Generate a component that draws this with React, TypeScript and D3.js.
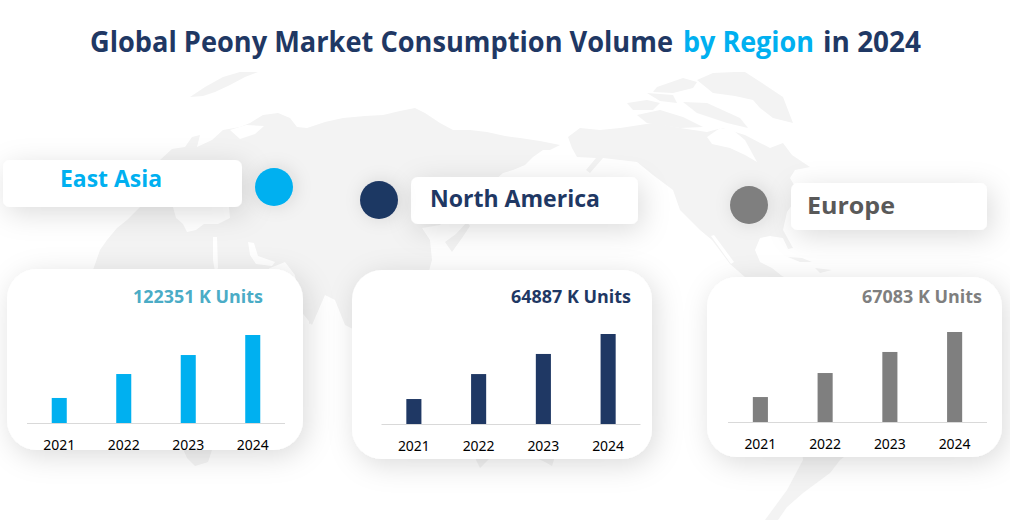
import React from "react";
import * as d3 from "d3";

const years = ["2021", "2022", "2023", "2024"];
const eastAsiaValues = [34800, 68100, 94500, 122351];
const northAmericaValues = [18000, 36000, 50500, 64887];
const europeValues = [18600, 36500, 52200, 67083];

const FONT = "'Open Sans', 'Noto Sans', sans-serif";
const TICK_FONT = "'Noto Sans', 'Open Sans', sans-serif";
const NAVY = "#1f3864";
const CYAN = "#00b0f0";
const GREY = "#7f7f7f";

type Panel = {
  name: string; values: number[]; color: string; nameColor: string; valueColor: string;
  card: [number, number, number, number];
  label: [number, number, number, number];
  dot: [number, number];
  nameX: number; nameY: number; nameW: number;
  valueX: number; valueY: number; valueW: number;
  axis: [number, number]; base: number; top: number; tickY: number;
};

const panels: Panel[] = [
  { name: "East Asia", values: eastAsiaValues, color: CYAN, nameColor: CYAN, valueColor: "#4bacc6",
    card: [7, 269, 296, 181], label: [3, 160, 239, 47], dot: [274, 187],
    nameX: 60, nameY: 187, nameW: 102, valueX: 133, valueY: 303, valueW: 130,
    axis: [27, 285], base: 423, top: 335, tickY: 450 },
  { name: "North America", values: northAmericaValues, color: NAVY, nameColor: NAVY, valueColor: NAVY,
    card: [352, 270, 300, 189], label: [411, 177, 227, 47], dot: [379, 200],
    nameX: 430, nameY: 207, nameW: 170, valueX: 511, valueY: 303, valueW: 120,
    axis: [381.5, 640.5], base: 424, top: 334, tickY: 451 },
  { name: "Europe", values: europeValues, color: GREY, nameColor: "#595959", valueColor: GREY,
    card: [707, 277, 295, 180], label: [791, 183, 196, 47], dot: [749, 205],
    nameX: 807, nameY: 214, nameW: 88, valueX: 862, valueY: 303, valueW: 120,
    axis: [728, 987], base: 422, top: 332, tickY: 449 },
];

// Decorative world-map silhouette (background only, not data)
const landShapes: [number, number][][] = [
  [[190, 97], [205, 87], [223, 77], [240, 72], [258, 72], [245, 77], [230, 85], [215, 92], [203, 96]],
  [[93, 270], [100, 250], [107, 240], [117, 228], [127, 220], [140, 207], [140, 180], [160, 160], [172, 149], [185, 147],
   [192, 137], [200, 135], [197, 147], [212, 140], [223, 130], [240, 127], [250, 123], [263, 115], [278, 113], [290, 118],
   [297, 127], [307, 128], [325, 122], [343, 118], [365, 116], [383, 115], [400, 111], [415, 108], [425, 113], [440, 123],
   [453, 130], [470, 130], [487, 132], [505, 136], [520, 138], [540, 141], [560, 145], [550, 150], [543, 150], [533, 157],
   [525, 165], [513, 170], [503, 173], [495, 180], [470, 190], [440, 225], [422, 228], [430, 240], [432, 260], [425, 285],
   [405, 300], [385, 325], [365, 335], [345, 325], [335, 300], [325, 295], [312, 325], [300, 310], [295, 275], [285, 262],
   [270, 268], [250, 280], [240, 300], [255, 330], [250, 390], [232, 430], [212, 450], [208, 462], [195, 466], [187, 458],
   [170, 420], [160, 340], [120, 320], [93, 300]],
  [[452, 252], [462, 238], [470, 226], [467, 222], [456, 234], [445, 242]],
  [[309, 316], [312, 318], [312, 323], [309, 324]],
  [[470, 440], [560, 440], [552, 466], [545, 462], [530, 455], [490, 458], [480, 468], [476, 460]],
  [[568, 137], [580, 128], [600, 130], [620, 128], [640, 125], [653, 123], [680, 128], [707, 132], [722, 128], [745, 135],
   [770, 148], [783, 143], [792, 155], [810, 167], [795, 170], [790, 178], [797, 190], [792, 205], [787, 212], [783, 230],
   [793, 248], [788, 249], [783, 238], [770, 236], [760, 238], [755, 250], [760, 262], [772, 268], [782, 276], [800, 285],
   [760, 290], [730, 264], [712, 240], [700, 230], [680, 210], [673, 190], [653, 175], [637, 162], [620, 160], [603, 158],
   [590, 173], [586, 170], [596, 158], [577, 157], [572, 148]],
  [[697, 80], [713, 73], [735, 72], [745, 72], [765, 85], [783, 97], [788, 110], [793, 123], [773, 118], [760, 108], [753, 100], [735, 96], [713, 93]],
  [[657, 87], [683, 78], [697, 82], [693, 88], [673, 93], [653, 92]],
  [[627, 103], [647, 100], [660, 103], [653, 110], [633, 110]],
  [[647, 93], [673, 95], [677, 103], [660, 101]],
  [[683, 102], [707, 103], [740, 118], [748, 128], [727, 123], [697, 113]],
  [[637, 115], [660, 110], [683, 117], [703, 127], [680, 128], [647, 123]],
  [[788, 257], [802, 258], [812, 262], [800, 262]],
  [[815, 268], [832, 270], [820, 273]],
  [[800, 292], [860, 300], [880, 340], [880, 430], [840, 460], [830, 473], [803, 493], [787, 507], [778, 520], [765, 520], [787, 490], [803, 460], [790, 350]],
];

const waterShapes: [number, number][][] = [
  [[173, 207], [176, 218], [183, 224], [187, 232], [196, 230], [204, 224], [218, 224], [230, 218], [229, 207]],
  [[213, 237], [217, 237], [218, 268], [215, 272], [213, 260]],
  [[248, 242], [254, 243], [258, 256], [275, 262], [272, 266], [256, 264], [250, 255]],
  [[230, 130], [246, 125], [264, 126], [255, 134], [240, 139]],
  [[707, 137], [720, 128], [733, 130], [745, 140], [757, 162], [745, 155], [730, 148], [712, 144]],
  [[711, 236], [714, 235], [734, 262], [731, 264]],
];

const lineGen = d3.line<[number, number]>().curve(d3.curveLinearClosed);

function PanelView({ p }: { p: Panel }) {
  const x = d3.scaleBand<string>().domain(years).range(p.axis).paddingInner(0.767).paddingOuter(0.3835);
  const y = d3.scaleLinear().domain([0, d3.max(p.values) as number]).range([p.base, p.top]);
  return (
    <g>
      <rect x={p.card[0]} y={p.card[1]} width={p.card[2]} height={p.card[3]} rx={30} fill="#fff" filter="url(#cardShadow)" />
      <text x={p.valueX} y={p.valueY} fontFamily={FONT} fontWeight={700} fontSize={17.5} fill={p.valueColor}
        textLength={p.valueW} lengthAdjust="spacingAndGlyphs">
        {d3.format("d")(p.values[3])} K Units
      </text>
      {years.map((yr, i) => (
        <rect key={yr} x={x(yr)} y={y(p.values[i])} width={x.bandwidth()} height={p.base - y(p.values[i])} fill={p.color} />
      ))}
      <line x1={p.axis[0]} x2={p.axis[1]} y1={p.base + 0.5} y2={p.base + 0.5} stroke="#d9d9d9" strokeWidth={1} />
      {years.map((yr) => (
        <text key={yr} x={(x(yr) as number) + x.bandwidth() / 2} y={p.tickY} textAnchor="middle"
          fontFamily={TICK_FONT} fontSize={14} fill="#000" textLength={32} lengthAdjust="spacingAndGlyphs">{yr}</text>
      ))}
      <rect x={p.label[0]} y={p.label[1]} width={p.label[2]} height={p.label[3]} rx={7} fill="#fff" filter="url(#cardShadow)" />
      <circle cx={p.dot[0]} cy={p.dot[1]} r={19} fill={p.color} filter="url(#dotShadow)" />
      <text x={p.nameX} y={p.nameY} fontFamily={FONT} fontWeight={700} fontSize={23.5} fill={p.nameColor}
        textLength={p.nameW} lengthAdjust="spacingAndGlyphs">{p.name}</text>
    </g>
  );
}

export default function App() {
  return (
    <svg width={1010} height={520} viewBox="0 0 1010 520"
      style={{ position: "absolute", left: 0, top: 0, display: "block", background: "#fff" }}>
      <defs>
        <filter id="cardShadow" x="-30%" y="-80%" width="160%" height="260%">
          <feDropShadow dx={4} dy={6} stdDeviation={14} floodColor="#000" floodOpacity={0.14} />
        </filter>
        <filter id="dotShadow" x="-100%" y="-100%" width="300%" height="300%">
          <feDropShadow dx={2} dy={0} stdDeviation={9} floodColor="#000" floodOpacity={0.12} />
        </filter>
      </defs>
      <g fill="#f3f3f3">
        {landShapes.map((s, i) => <path key={i} d={lineGen(s) as string} />)}
      </g>
      <g fill="#fff">
        {waterShapes.map((s, i) => <path key={i} d={lineGen(s) as string} />)}
      </g>
      <text y={52} fontFamily={FONT} fontWeight={700} fontSize={28} fill={NAVY}>
        <tspan x={90} textLength={583} lengthAdjust="spacingAndGlyphs">Global Peony Market Consumption Volume</tspan>{" "}
        <tspan x={683} fill={CYAN} textLength={131} lengthAdjust="spacingAndGlyphs">by Region</tspan>{" "}
        <tspan x={823} textLength={98} lengthAdjust="spacingAndGlyphs">in 2024</tspan>
      </text>
      {panels.map((p) => <PanelView key={p.name} p={p} />)}
    </svg>
  );
}
